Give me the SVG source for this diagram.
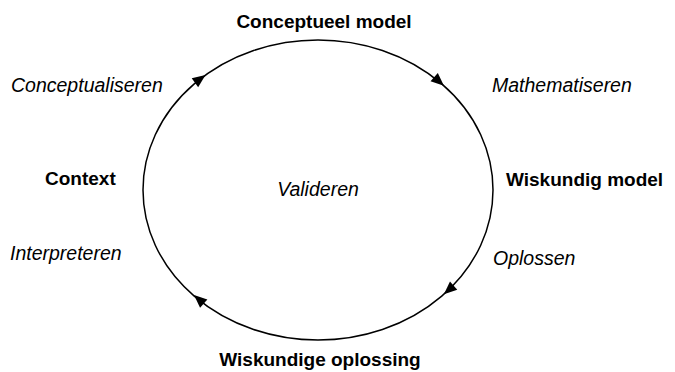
<svg xmlns="http://www.w3.org/2000/svg" width="675" height="372" viewBox="0 0 675 372">
  <style>
    .node { font-family: "Liberation Sans", Arial, sans-serif; font-size: 19px; font-weight: bold; fill: #000; }
    .step { font-family: "Liberation Sans", Arial, sans-serif; font-size: 19.5px; font-style: italic; fill: #000; }
    .cycle { fill: none; stroke: #000; stroke-width: 1.5; }
    .head { fill: #000; }
  </style>
  <defs>
    <polygon id="arrowhead" class="head" points="0,0 -13,-5.5 -13,5.5"/>
  </defs>

  <!-- cycle ellipse with clockwise arrowheads -->
  <g id="connectors">
    <ellipse class="cycle" cx="318" cy="190" rx="175" ry="150"/>
    <use href="#arrowhead" transform="translate(205.5,75.1) rotate(-35.7)"/>
    <use href="#arrowhead" transform="translate(443.9,85.8) rotate(41.6)"/>
    <use href="#arrowhead" transform="translate(443.9,294.2) rotate(138.4)"/>
    <use href="#arrowhead" transform="translate(194,295) rotate(221.6)"/>
  </g>

  <g id="conceptueel-model"><text class="node" x="324" y="28" text-anchor="middle">Conceptueel model</text></g>
  <g id="wiskundig-model"><text class="node" x="506" y="186">Wiskundig model</text></g>
  <g id="wiskundige-oplossing"><text class="node" x="320" y="366" text-anchor="middle">Wiskundige oplossing</text></g>
  <g id="context"><text class="node" x="45" y="185">Context</text></g>

  <g id="labels">
    <text class="step" x="11" y="92">Conceptualiseren</text>
    <text class="step" x="492" y="92">Mathematiseren</text>
    <text class="step" x="493" y="265">Oplossen</text>
    <text class="step" x="10" y="260">Interpreteren</text>
    <text class="step" x="318" y="196" text-anchor="middle">Valideren</text>
  </g>
</svg>
